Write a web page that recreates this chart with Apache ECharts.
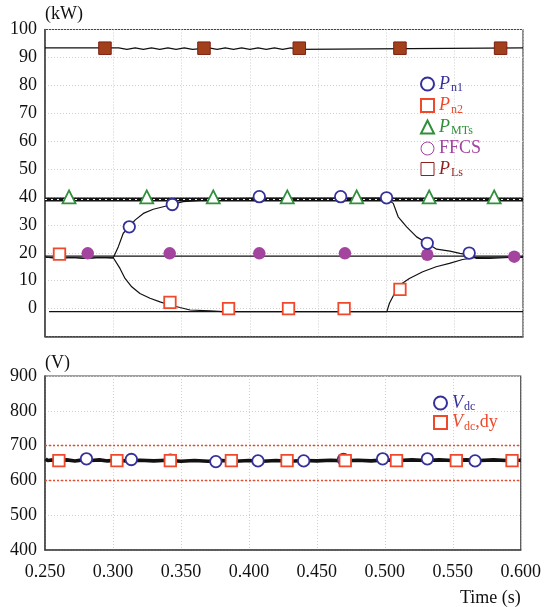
<!DOCTYPE html>
<html>
<head>
<meta charset="utf-8">
<script src="https://cdn.jsdelivr.net/npm/echarts@6/dist/echarts.min.js"></script>
<style>
html, body { margin: 0; padding: 0; background: #fff; }
#chart { width: 544px; height: 607px; }
</style>
</head>
<body>
<div id="chart"></div>
<script>
// time axis (s)
const tMin = 0.25
const tMax = 0.6
const tStep = 0.05

// upper panel, kW  -- [time, value]
const pLsLine = [[0.25, 93.4], [0.30, 93.4], [0.304, 92.9], [0.31, 93.4], [0.316, 92.9], [0.322, 93.4],
  [0.328, 92.9], [0.334, 93.4], [0.34, 92.9], [0.346, 93.4], [0.352, 92.9], [0.358, 93.4], [0.37, 92.9],
  [0.376, 93.4], [0.382, 92.9], [0.388, 93.4], [0.394, 92.9], [0.40, 93.4], [0.406, 92.9], [0.412, 93.4],
  [0.418, 92.9], [0.424, 93.4], [0.43, 92.9], [0.436, 93.4], [0.6, 93.4]]
const pMTsLine = [[0.25, 39.1], [0.6, 39.1]]
const ffcsLine = [[0.25, 18.8], [0.6, 18.8]]
const zeroLine = [[0.253, -1.1], [0.6, -1.1]]
const pn1Line = [[0.2505, 18.4], [0.26, 18.1], [0.27, 18.3], [0.28, 18.0], [0.29, 18.3], [0.3, 18.2],
  [0.3012, 18.6], [0.3037, 22.2], [0.3073, 27.0], [0.3117, 29.3], [0.3159, 31.7], [0.322, 34.1],
  [0.3293, 35.6], [0.3366, 36.5], [0.3432, 37.3], [0.3512, 38.3], [0.3586, 38.6], [0.3684, 38.9],
  [0.3781, 39.1], [0.39, 39.4], [0.40, 39.5], [0.45, 39.5], [0.4995, 39.6], [0.5001, 39.7],
  [0.505, 37.7], [0.5086, 32.9], [0.5148, 29.3], [0.5221, 25.7], [0.5299, 23.4], [0.5367, 21.3],
  [0.5465, 20.6], [0.5538, 19.8], [0.5606, 19.2], [0.566, 18.0], [0.5758, 18.0], [0.59, 18.3], [0.6, 18.3]]
const pn2Line = [[0.2505, 18.4], [0.26, 18.1], [0.27, 18.3], [0.28, 18.0], [0.29, 18.3], [0.3, 18.2],
  [0.3012, 18.3], [0.3049, 14.4], [0.3086, 10.8], [0.3135, 7.8], [0.3195, 5.4], [0.3269, 3.7],
  [0.3342, 2.4], [0.3415, 1.3], [0.3488, 0.4], [0.3562, -0.5], [0.3708, -0.8], [0.38, -1.1],
  [0.5003, -1.1], [0.5022, 1.9], [0.5059, 5.4], [0.5095, 8.4], [0.5168, 10.8], [0.5266, 13.2],
  [0.5364, 15.0], [0.5461, 16.2], [0.5558, 17.6], [0.5656, 18.3], [0.6, 18.5]]

const pn1Marks = [[0.3117, 29.3], [0.3432, 37.3], [0.4069, 40.1], [0.4665, 40.1], [0.5001, 39.7],
  [0.5299, 23.4], [0.5606, 19.9]]
const pn2Marks = [[0.2606, 19.5], [0.3415, 2.2], [0.3844, 0], [0.4283, 0], [0.469, 0], [0.5099, 6.9]]
const pMTsMarks = [[0.2676, 40], [0.3245, 40], [0.3732, 40], [0.4274, 40], [0.4782, 40], [0.5313, 40], [0.5789, 40]]
const ffcsMarks = [[0.2813, 19.8], [0.3413, 19.8], [0.4069, 19.8], [0.4696, 19.8], [0.5299, 19.3], [0.5936, 18.6]]
const pLsMarks = [[0.2939, 93.3], [0.3664, 93.3], [0.4362, 93.3], [0.5099, 93.3], [0.5836, 93.3]]

// lower panel, V
const vdcLine = [[0.2505, 662], [0.252, 657], [0.256, 659], [0.26, 657], [0.266, 659], [0.272, 656],
  [0.278, 659], [0.284, 657], [0.29, 659], [0.296, 656], [0.302, 658], [0.31, 656], [0.32, 658],
  [0.33, 656], [0.34, 658], [0.35, 655], [0.36, 657], [0.37, 655], [0.38, 657], [0.39, 655],
  [0.40, 657], [0.41, 655], [0.42, 657], [0.43, 655], [0.44, 657], [0.45, 656], [0.46, 658],
  [0.47, 656], [0.48, 658], [0.49, 656], [0.50, 659], [0.51, 657], [0.52, 659], [0.53, 657],
  [0.54, 659], [0.55, 657], [0.56, 659], [0.57, 657], [0.58, 659], [0.59, 657], [0.6, 658]]
const vdcMarks = [[0.2805, 662], [0.3135, 660], [0.3422, 658], [0.3757, 654], [0.4067, 656],
  [0.4403, 656], [0.4696, 660], [0.4984, 662], [0.5313, 662], [0.5664, 656]]
const vdcDyMarks = [[0.2602, 657], [0.3029, 657], [0.3422, 657], [0.3871, 657], [0.4281, 657],
  [0.4709, 657], [0.5086, 657], [0.5526, 657], [0.5936, 657]]
const vdcLimits = [700, 600]

const FONT = '"Liberation Serif", "Times New Roman", serif'
const BLUE = '#35309a'
const RED = '#f0482a'
const GREEN = '#2f8f3b'
const PURPLE = '#a3449f'
const BROWN = '#a3401c'
const BROWN_DARK = '#7d1e12'
const LS_TEXT = '#8e1f1f'
const GRID_LINE = { show: true, lineStyle: { color: '#cfcfcf', type: [1, 2], width: 1 } }

function richFor(key, color) {
  const r = {}
  r['p' + key] = { fontFamily: FONT, fontStyle: 'italic', fontSize: 18, color: color }
  r['s' + key] = { fontFamily: FONT, fontSize: 12, color: color, padding: [8, 0, 0, 1] }
  r['n' + key] = { fontFamily: FONT, fontSize: 18, color: color }
  return r
}
const rich = Object.assign({}, richFor('b', BLUE), richFor('r', RED), richFor('g', GREEN),
  richFor('m', PURPLE), richFor('l', LS_TEXT))

const legendText = {
  Pn1: '{pb|P}{sb|n1}',
  Pn2: '{pr|P}{sr|n2}',
  PMTs: '{pg|P}{sg|MTs}',
  FFCS: '{nm|FFCS}',
  PLs: '{pl|P}{sl|Ls}',
  Vdc: '{pb|V}{sb|dc}',
  Vdcdy: '{pr|V}{sr|dc}{nr|,dy}'
}

function lineSeries(name, data, width, axis) {
  return {
    name: name, type: 'line', data: data, xAxisIndex: axis, yAxisIndex: axis,
    showSymbol: false, symbol: 'none', silent: true,
    lineStyle: { color: '#111', width: width }, z: 2
  }
}

function markSeries(name, data, symbol, size, style, axis) {
  return {
    name: name, type: 'scatter', data: data, xAxisIndex: axis, yAxisIndex: axis,
    symbol: symbol, symbolSize: size, itemStyle: Object.assign({ opacity: 1 }, style), z: 5
  }
}

const chart = echarts.init(document.getElementById('chart'))

const xAxisBase = {
  type: 'value', min: tMin, max: tMax, interval: tStep,
  axisLine: { show: true, onZero: false, lineStyle: { color: '#444', width: 1.5 } },
  axisTick: { show: false },
  splitLine: GRID_LINE
}

chart.setOption({
  animation: false,
  backgroundColor: '#fff',
  textStyle: { fontFamily: FONT },
  grid: [
    { left: 45, right: 21, top: 29.5, height: 307, show: true, borderColor: '#444', borderWidth: 1.2 },
    { left: 45, right: 21, top: 376, height: 175.5, show: true, borderColor: '#444', borderWidth: 1.2 }
  ],
  legend: [
    {
      orient: 'vertical', left: 415, top: 70, itemWidth: 13, itemHeight: 13, itemGap: 2.5,
      selectedMode: false,
      textStyle: { fontFamily: FONT, fontSize: 18, rich: rich },
      formatter: name => legendText[name],
      data: [
        { name: 'Pn1', icon: 'circle', itemStyle: { color: '#fff', borderColor: BLUE, borderWidth: 2 } },
        { name: 'Pn2', icon: 'rect', itemStyle: { color: '#fff', borderColor: RED, borderWidth: 2 } },
        { name: 'PMTs', icon: 'triangle', itemStyle: { color: '#fff', borderColor: GREEN, borderWidth: 2 } },
        { name: 'FFCS', icon: 'circle', itemStyle: { color: '#fff', borderColor: PURPLE, borderWidth: 1 } },
        { name: 'PLs', icon: 'rect', itemStyle: { color: '#fff', borderColor: LS_TEXT, borderWidth: 1 } }
      ]
    },
    {
      orient: 'vertical', left: 428, top: 389, itemWidth: 13, itemHeight: 13, itemGap: 0.5,
      selectedMode: false,
      textStyle: { fontFamily: FONT, fontSize: 18, rich: rich },
      formatter: name => legendText[name],
      data: [
        { name: 'Vdc', icon: 'circle', itemStyle: { color: '#fff', borderColor: BLUE, borderWidth: 2 } },
        { name: 'Vdcdy', icon: 'rect', itemStyle: { color: '#fff', borderColor: RED, borderWidth: 2 } }
      ]
    }
  ],
  xAxis: [
    Object.assign({ gridIndex: 0, axisLabel: { show: false } }, xAxisBase),
    Object.assign({
      gridIndex: 1,
      axisLabel: { color: '#111', fontFamily: FONT, fontSize: 18, margin: 13, formatter: v => v.toFixed(3) },
      name: 'Time (s)', nameLocation: 'end', nameGap: 0,
      nameTextStyle: { color: '#111', fontFamily: FONT, fontSize: 18, align: 'right', verticalAlign: 'top', padding: [39, 0, 0, 0] }
    }, xAxisBase)
  ],
  yAxis: [
    {
      gridIndex: 0, type: 'value', min: -10, max: 100, interval: 10,
      name: '(kW)', nameLocation: 'end', nameGap: 6,
      nameTextStyle: { color: '#111', fontFamily: FONT, fontSize: 18, align: 'left' },
      axisLine: { show: true, onZero: false, lineStyle: { color: '#444', width: 1.5 } },
      axisTick: { show: false },
      axisLabel: { color: '#111', fontFamily: FONT, fontSize: 18, margin: 8, formatter: v => (v < 0 ? '' : String(v)) },
      splitLine: GRID_LINE
    },
    {
      gridIndex: 1, type: 'value', min: 400, max: 900, interval: 100,
      name: '(V)', nameLocation: 'end', nameGap: 4,
      nameTextStyle: { color: '#111', fontFamily: FONT, fontSize: 18, align: 'left' },
      axisLine: { show: true, onZero: false, lineStyle: { color: '#444', width: 1.5 } },
      axisTick: { show: false },
      axisLabel: { color: '#111', fontFamily: FONT, fontSize: 18, margin: 8 },
      splitLine: GRID_LINE
    }
  ],
  series: [
    Object.assign(lineSeries('PLs-line', pLsLine, 1.3, 0), { step: 'end' }),
    lineSeries('PMTs-line', pMTsLine, 4, 0),
    Object.assign(lineSeries('PMTs-gap', pMTsLine, 1, 0), { lineStyle: { color: '#fff', width: 1, type: [2, 4] }, z: 3 }),
    lineSeries('FFCS-line', ffcsLine, 1.2, 0),
    lineSeries('zero-line', zeroLine, 1.2, 0),
    lineSeries('Pn1-line', pn1Line, 1.2, 0),
    lineSeries('Pn2-line', pn2Line, 1.2, 0),
    markSeries('PLs', pLsMarks, 'rect', 12.5, { color: BROWN, borderColor: BROWN_DARK, borderWidth: 1 }, 0),
    markSeries('PMTs', pMTsMarks, 'triangle', 13, { color: '#fff', borderColor: GREEN, borderWidth: 1.8 }, 0),
    markSeries('FFCS', ffcsMarks, 'circle', 12.5, { color: PURPLE }, 0),
    markSeries('Pn2', pn2Marks, 'rect', 11.5, { color: '#fff', borderColor: RED, borderWidth: 1.8 }, 0),
    markSeries('Pn1', pn1Marks, 'circle', 11.5, { color: '#fff', borderColor: BLUE, borderWidth: 1.8 }, 0),

    Object.assign(lineSeries('Vdc-line', vdcLine, 3.6, 1), {
      markLine: {
        silent: true, symbol: 'none', label: { show: false },
        lineStyle: { color: RED, type: [2, 2], width: 1.3 },
        data: vdcLimits.map(v => ({ yAxis: v }))
      }
    }),
    markSeries('Vdc', vdcMarks, 'circle', 11.5, { color: '#fff', borderColor: BLUE, borderWidth: 1.8 }, 1),
    markSeries('Vdcdy', vdcDyMarks, 'rect', 11.5, { color: '#fff', borderColor: RED, borderWidth: 1.8 }, 1)
  ]
})
</script>
</body>
</html>
